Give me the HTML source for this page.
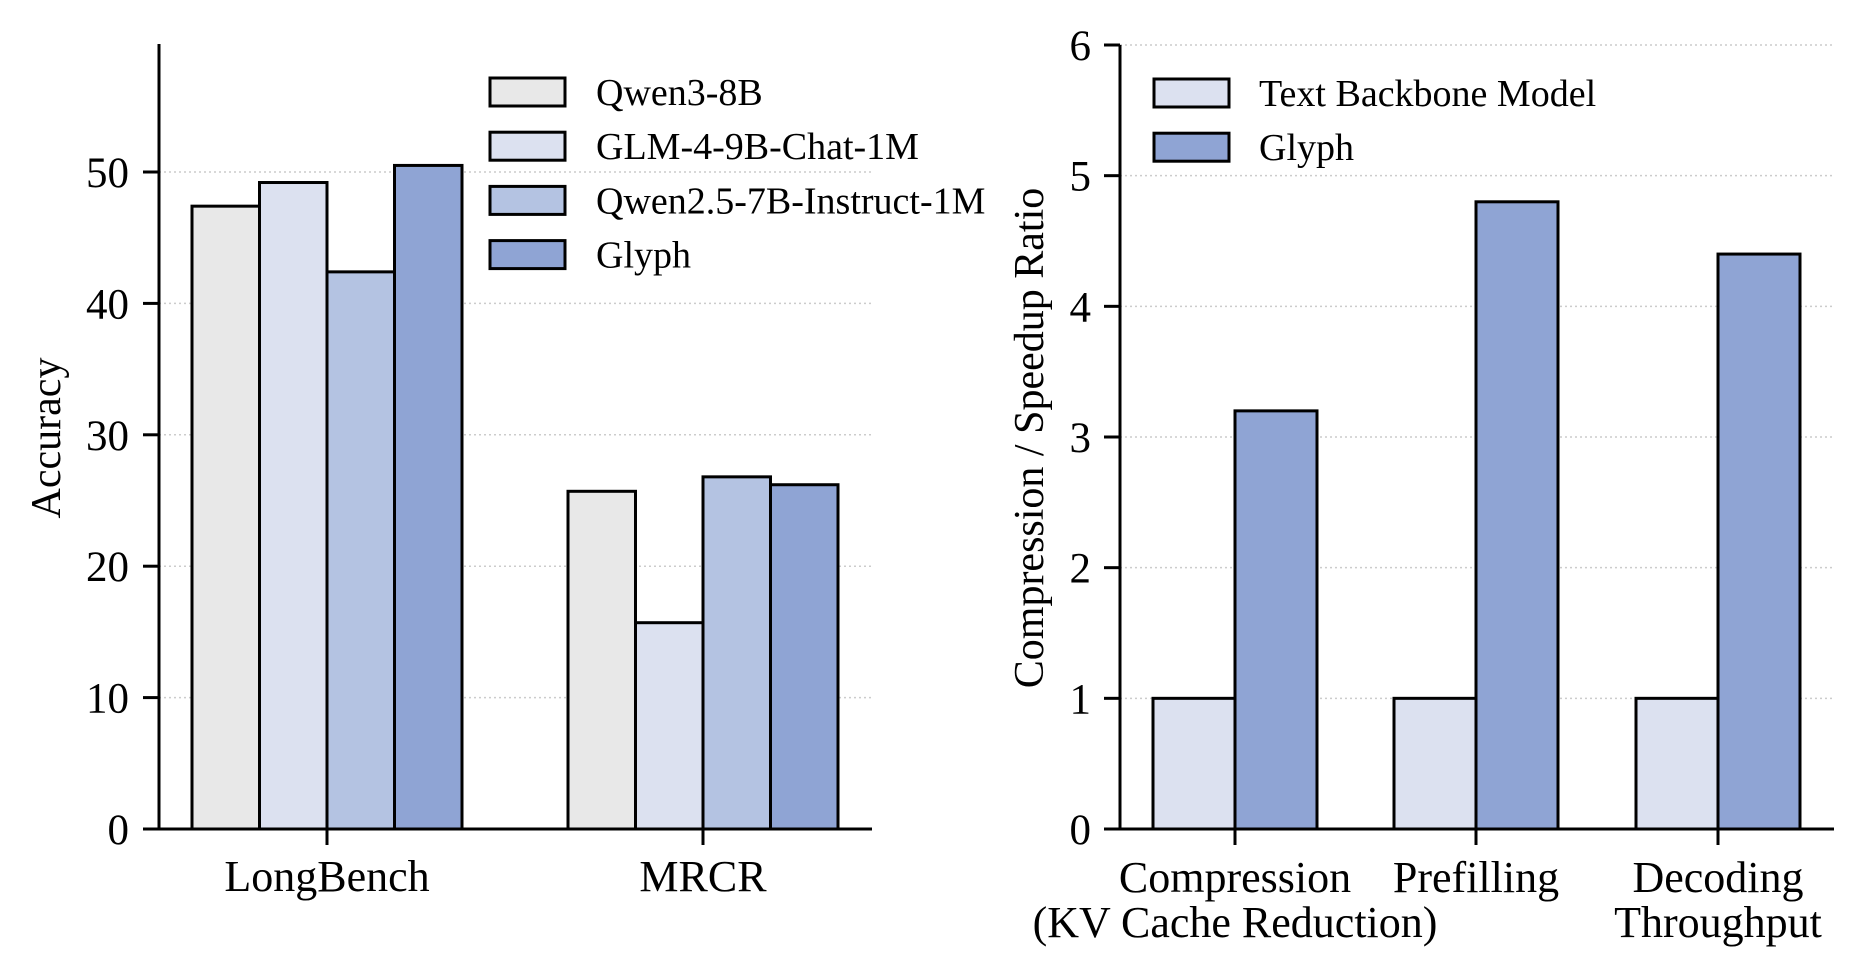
<!DOCTYPE html>
<html><head><meta charset="utf-8">
<style>
html,body{margin:0;padding:0;background:#fff;}
svg{display:block;font-family:"Liberation Serif",serif;}
</style></head>
<body>
<svg id="chart" width="1862" height="974" viewBox="0 0 1862 974" xmlns="http://www.w3.org/2000/svg"></svg>
<script>
// Left chart data
const leftCategories = ["LongBench", "MRCR"];
const leftSeries = ["Qwen3-8B", "GLM-4-9B-Chat-1M", "Qwen2.5-7B-Instruct-1M", "Glyph"];
const leftQwen3 = [47.4, 25.7];
const leftGLM = [49.2, 15.7];
const leftQwen25 = [42.4, 26.8];
const leftGlyph = [50.5, 26.2];
const leftTicks = [0, 10, 20, 30, 40, 50];
// Right chart data
const rightCategories = [["Compression", "(KV Cache Reduction)"], ["Prefilling"], ["Decoding", "Throughput"]];
const rightSeries = ["Text Backbone Model", "Glyph"];
const rightBackbone = [1, 1, 1];
const rightGlyph = [3.2, 4.8, 4.4];
const rightTicks = [0, 1, 2, 3, 4, 5, 6];

const NS = "http://www.w3.org/2000/svg";
const svg = document.getElementById("chart");
function mk(tag, attrs, parent) {
  const e = document.createElementNS(NS, tag);
  for (const k in attrs) e.setAttribute(k, attrs[k]);
  (parent || svg).appendChild(e);
  return e;
}
const leftColors = ["#e8e8e8", "#dce1f0", "#b4c3e2", "#8fa4d4"];
const rightColors = ["#dce1f0", "#8fa4d4"];
const SW = 3;

// ---------- LEFT ----------
const L = {x0: 159, x1: 872, y0: 829, yTop: 44};
const lY = v => L.y0 - v * (829 - 172) / 50;
const lGroupCenter = i => [327, 703][i];
const lBarW = 67.5;
const lg = mk("g", {});


leftTicks.forEach(t => {
  const y = lY(t);
  if (t > 0) {
    const gl = mk("line", {x1: L.x0, x2: L.x1, y1: y, y2: y, stroke: "#cccccc", "stroke-width": 1.5, "stroke-dasharray": "2,3"}, lg);
    
    
  }
  const tk = mk("line", {x1: 143, x2: L.x0, y1: y, y2: y, stroke: "#000", "stroke-width": SW}, lg);
  
  
  const tx = mk("text", {x: 129, y: y + 15, "text-anchor": "end", "font-size": 43}, lg);
  tx.textContent = t;
  
  
});
const lData = [leftQwen3, leftGLM, leftQwen25, leftGlyph];
lData.forEach((arr, s) => {
  arr.forEach((v, i) => {
    const x = lGroupCenter(i) + (s - 2) * lBarW;
    const r = mk("rect", {x: x, y: lY(v), width: lBarW, height: L.y0 - lY(v), fill: leftColors[s], stroke: "#000", "stroke-width": SW}, lg);
    
    
  });
});
mk("line", {x1: L.x0, x2: L.x0, y1: L.yTop, y2: L.y0 + 1, stroke: "#000", "stroke-width": SW}, lg);
mk("line", {x1: L.x0, x2: L.x1, y1: L.y0, y2: L.y0, stroke: "#000", "stroke-width": SW}, lg);
leftCategories.forEach((c, i) => {
  const cx = lGroupCenter(i);
  const tk = mk("line", {x1: cx, x2: cx, y1: L.y0, y2: L.y0 + 16, stroke: "#000", "stroke-width": SW}, lg);
  
  
  const t = mk("text", {x: cx, y: 891, "text-anchor": "middle", "font-size": 44}, lg);
  t.textContent = c;
  
  
});
const ylab = mk("text", {x: 0, y: 0, transform: "translate(60,438) rotate(-90)", "text-anchor": "middle", "font-size": 42}, lg);
ylab.textContent = "Accuracy";


leftSeries.forEach((s, i) => {
  const y = 78 + i * 54.2;
  const p = mk("rect", {x: 490, y: y, width: 75, height: 28, fill: leftColors[i], stroke: "#000", "stroke-width": SW}, lg);
  
  
  const t = mk("text", {x: 596, y: y + 27, "font-size": 38}, lg);
  t.textContent = s;
  
  
});

// ---------- RIGHT ----------
const R = {x0: 1120, x1: 1834, y0: 829, yTop: 45};
const rY = v => R.y0 - v * (829 - 45) / 6;
const rGroupCenter = i => [1235, 1476, 1718][i];
const rBarW = 82;
const rg = mk("g", {});


rightTicks.forEach(t => {
  const y = rY(t);
  if (t > 0) {
    const gl = mk("line", {x1: R.x0, x2: R.x1, y1: y, y2: y, stroke: "#cccccc", "stroke-width": 1.5, "stroke-dasharray": "2,3"}, rg);
    
    
  }
  const tk = mk("line", {x1: 1104, x2: R.x0, y1: y, y2: y, stroke: "#000", "stroke-width": SW}, rg);
  
  
  const tx = mk("text", {x: 1091, y: y + 15, "text-anchor": "end", "font-size": 43}, rg);
  tx.textContent = t;
  
  
});
[rightBackbone, rightGlyph].forEach((arr, s) => {
  arr.forEach((v, i) => {
    const x = rGroupCenter(i) + (s - 1) * rBarW;
    const r = mk("rect", {x: x, y: rY(v), width: rBarW, height: R.y0 - rY(v), fill: rightColors[s], stroke: "#000", "stroke-width": SW}, rg);
    
    
  });
});
mk("line", {x1: R.x0, x2: R.x0, y1: R.yTop, y2: R.y0 + 1, stroke: "#000", "stroke-width": SW}, rg);
mk("line", {x1: R.x0, x2: R.x1, y1: R.y0, y2: R.y0, stroke: "#000", "stroke-width": SW}, rg);
rightCategories.forEach((lines, i) => {
  const cx = rGroupCenter(i);
  const tk = mk("line", {x1: cx, x2: cx, y1: R.y0, y2: R.y0 + 16, stroke: "#000", "stroke-width": SW}, rg);
  
  
  lines.forEach((ln, j) => {
    const t = mk("text", {x: cx, y: 892 + j * 45, "text-anchor": "middle", "font-size": 44}, rg);
    t.textContent = ln;
    
    
  });
});
const ylab2 = mk("text", {x: 0, y: 0, transform: "translate(1043,438) rotate(-90)", "text-anchor": "middle", "font-size": 42}, rg);
ylab2.textContent = "Compression / Speedup Ratio";


rightSeries.forEach((s, i) => {
  const y = 79 + i * 54.2;
  const p = mk("rect", {x: 1154, y: y, width: 75, height: 28, fill: rightColors[i], stroke: "#000", "stroke-width": SW}, rg);
  
  
  const t = mk("text", {x: 1259, y: y + 27, "font-size": 38}, rg);
  t.textContent = s;
  
  
});
</script>
</body></html>
